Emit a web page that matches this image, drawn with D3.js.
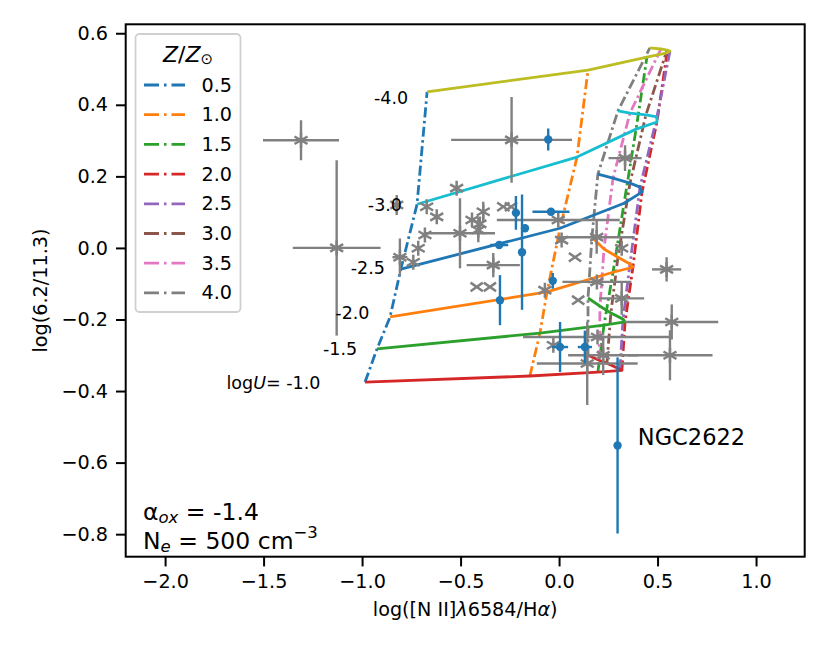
<!DOCTYPE html>
<html>
<head>
<meta charset="utf-8">
<script src="https://cdn.jsdelivr.net/npm/d3@7"></script>
<style>
  html, body { margin: 0; padding: 0; background: #fff; }
  svg { display: block; font-family: "DejaVu Sans", sans-serif; }
</style>
</head>
<body>
<svg id="chart" width="830" height="664"></svg>
<script>
// ---------------- data ----------------
const metallicities = [0.5, 1.0, 1.5, 2.0, 2.5, 3.0, 3.5, 4.0];
const logUValues = [-1.0, -1.5, -2.0, -2.5, -3.0, -4.0];
const logULabels = ["logU= -1.0", "-1.5", "-2.0", "-2.5", "-3.0", "-4.0"];
const logULabelN2 = [-1.450, -1.112, -1.049, -0.971, -0.884, -0.853];
const logULabelPAH = [-0.378, -0.283, -0.182, -0.056, 0.120, 0.419];

// model grid: rows = metallicity, columns = logU
const gridN2 = [
  [-0.985, -0.924, -0.858, -0.803, -0.721, -0.670],
  [-0.148, -0.097, -0.061,  0.005,  0.091,  0.147],
  [ 0.197,  0.228,  0.274,  0.330,  0.391,  0.446],
  [ 0.319,  0.335,  0.375,  0.421,  0.497,  0.548],
  [ 0.309,  0.325,  0.360,  0.411,  0.497,  0.563],
  [ 0.243,  0.263,  0.299,  0.360,  0.441,  0.548],
  [ 0.203,  0.208,  0.228,  0.274,  0.360,  0.517],
  [ 0.147,  0.147,  0.167,  0.197,  0.299,  0.461]
];
const gridPAH = [
  [-0.375, -0.282, -0.193, -0.059,  0.122,  0.436],
  [-0.358, -0.238, -0.123,  0.055,  0.254,  0.497],
  [-0.347, -0.216, -0.068,  0.125,  0.332,  0.533],
  [-0.342, -0.207, -0.054,  0.156,  0.352,  0.545],
  [-0.339, -0.199, -0.045,  0.170,  0.366,  0.550],
  [-0.322, -0.182, -0.026,  0.181,  0.372,  0.553],
  [-0.314, -0.163, -0.003,  0.195,  0.377,  0.556],
  [-0.300, -0.140,  0.030,  0.206,  0.383,  0.559]
];

// comparison sample (gray asterisks)
const grayN2   = [-1.310, -1.129, -0.824, -0.808, -0.715, -0.740, -0.672, -0.621, -0.520, -0.681, -0.503, -0.442, -0.385, -0.410, -0.402, -0.334, -0.241, -0.004, 0.013, 0.191, 0.318, 0.546, 0.192, -0.072, 0.318, 0.572, 0.195, 0.224, 0.563, 0.143, 0.335, -0.029];
const grayPAH  = [ 0.301,  0.000,  0.120, -0.026, -0.001, -0.040,  0.115,  0.087,  0.167,  0.036,  0.041,  0.078,  0.101,  0.050,  0.067, -0.048,  0.302,  0.078, 0.022, 0.030, -0.001, -0.060, -0.095, -0.118, -0.141, -0.207, -0.249, -0.300, -0.300, -0.323, 0.251, -0.272];
const grayXerr = [ 0.193,  0.223,  0,      0.038,  0,      0,      0,      0,      0,      0,      0.178,  0,      0,      0,      0,      0.135,  0.307,  0.312, 0,     0.193, 0,      0.074, 0.175,  0,      0.114, 0.236,  0.378,  0.178, 0.216,  0.256, 0.084, 0];
const grayYerr = [ 0.056,  0.245,  0.028,  0.052,  0,      0,      0,      0,      0,      0,      0.098,  0,      0.028,  0.034,  0,      0.034,  0.120,  0,     0,     0.046, 0,      0.034, 0,      0,      0.046, 0.049,  0,      0.055, 0.070,  0.116, 0.036, 0];

// comparison sample (gray x markers)
const crossN2  = [-0.283, -0.244, -0.418, -0.351, 0.081, 0.097];
const crossPAH = [ 0.115,  0.115, -0.109, -0.109, -0.026, -0.146];

// our sample (blue points)
const blueN2   = [-0.219, -0.041, -0.173, -0.188, -0.304, -0.300, -0.032, -0.055,  0.005,  0.131,  0.297];
const bluePAH  = [ 0.098,  0.101,  0.055, -0.012,  0.008, -0.146, -0.092,  0.303, -0.277, -0.277, -0.552];
const blueXerr = [ 0,      0.094,  0,      0,      0.046,  0,      0,      0,      0.041,  0.036,  0];
const blueYerr = [ 0.047,  0,      0,      0.161,  0,      0.070,  0.022,  0.031,  0.070,  0.046,  0.246];

const xTicks = [-2.0, -1.5, -1.0, -0.5, 0.0, 0.5, 1.0];
const yTicks = [-0.8, -0.6, -0.4, -0.2, 0.0, 0.2, 0.4, 0.6];

const zColors = ["#1f77b4", "#ff7f0e", "#2ca02c", "#d62728", "#9467bd", "#8c564b", "#e377c2", "#7f7f7f"];
const uColors = ["#d62728", "#2ca02c", "#ff7f0e", "#1f77b4", "#17becf", "#bcbd22"];

// ---------------- layout ----------------
const svg = d3.select("#chart");
const L = 125.7, R = 804.7, T = 24.3, B = 556.7;
const x = d3.scaleLinear().domain([-2.2, 1.247]).range([L, R]);
const y = d3.scaleLinear().domain([-0.863, 0.625]).range([B, T]);

svg.append("defs").append("clipPath").attr("id", "clip")
  .append("rect").attr("x", L).attr("y", T).attr("width", R - L).attr("height", B - T);

const plot = svg.append("g").attr("clip-path", "url(#clip)");
const line = d3.line().x(d => x(d[0])).y(d => y(d[1]));

// constant-metallicity lines (dash-dot)
metallicities.forEach((z, i) => {
  const pts = logUValues.map((u, j) => [gridN2[i][j], gridPAH[i][j]]);
  plot.append("path").attr("d", line(pts))
    .attr("fill", "none").attr("stroke", zColors[i]).attr("stroke-width", 2.8)
    .attr("stroke-dasharray", "10,3.5,2.5,3.5");
});
// constant-logU lines (solid)
logUValues.forEach((u, j) => {
  const pts = metallicities.map((z, i) => [gridN2[i][j], gridPAH[i][j]]);
  plot.append("path").attr("d", line(pts))
    .attr("fill", "none").attr("stroke", uColors[j]).attr("stroke-width", 2.8)
    .attr("stroke-linejoin", "round");
});

// logU labels
logULabels.forEach((t, j) => {
  const txt = svg.append("text").attr("x", x(logULabelN2[j])).attr("y", y(logULabelPAH[j]))
    .attr("text-anchor", "middle").attr("dominant-baseline", "central")
    .attr("font-size", 17.5).attr("fill", "#000");
  if (t.startsWith("log")) {
    txt.append("tspan").text("log");
    txt.append("tspan").attr("font-style", "italic").text("U");
    txt.append("tspan").text("= -1.0");
  } else txt.text(t);
});

// error bars helper
function errbars(g, xs, ys, xe, ye, color) {
  xs.forEach((xv, k) => {
    if (xe[k] > 0) g.append("line")
      .attr("x1", x(xv - xe[k])).attr("x2", x(xv + xe[k]))
      .attr("y1", y(ys[k])).attr("y2", y(ys[k]))
      .attr("stroke", color).attr("stroke-width", 2.4);
    if (ye[k] > 0) g.append("line")
      .attr("x1", x(xv)).attr("x2", x(xv))
      .attr("y1", y(ys[k] - ye[k])).attr("y2", y(ys[k] + ye[k]))
      .attr("stroke", color).attr("stroke-width", 2.4);
  });
}

const grayG = plot.append("g");
errbars(grayG, grayN2, grayPAH, grayXerr, grayYerr, "#808080");
const rA = 7.5;
function asterisk(cx, cy) {
  let d = "";
  [90, 30, 150].forEach(a => {
    const r = a * Math.PI / 180;
    const dx = rA * Math.cos(r), dy = rA * Math.sin(r);
    d += `M${cx - dx},${cy + dy}L${cx + dx},${cy - dy}`;
  });
  return d;
}
function xmark(cx, cy) {
  let d = "";
  [35, 145].forEach(a => {
    const r = a * Math.PI / 180;
    const dx = rA * Math.cos(r), dy = rA * Math.sin(r);
    d += `M${cx - dx},${cy + dy}L${cx + dx},${cy - dy}`;
  });
  return d;
}
grayN2.forEach((xv, k) => {
  grayG.append("path").attr("d", asterisk(x(xv), y(grayPAH[k])))
    .attr("stroke", "#808080").attr("stroke-width", 2.5).attr("fill", "none");
});
crossN2.forEach((xv, k) => {
  grayG.append("path").attr("d", xmark(x(xv), y(crossPAH[k])))
    .attr("stroke", "#808080").attr("stroke-width", 2.5).attr("fill", "none");
});

const blueG = plot.append("g");
errbars(blueG, blueN2, bluePAH, blueXerr, blueYerr, "#1f77b4");
blueN2.forEach((xv, k) => {
  blueG.append("circle").attr("cx", x(xv)).attr("cy", y(bluePAH[k])).attr("r", 4.2)
    .attr("fill", "#1f77b4");
});

svg.append("text").attr("x", x(0.40)).attr("y", y(-0.529))
  .attr("dominant-baseline", "central").attr("font-size", 22.5).text("NGC2622");

// frame
svg.append("rect").attr("x", L).attr("y", T).attr("width", R - L).attr("height", B - T)
  .attr("fill", "none").attr("stroke", "#000").attr("stroke-width", 2);

// axes
const fmt = d3.format(".1f");
const xAxis = svg.append("g").attr("transform", `translate(0,${B})`)
  .call(d3.axisBottom(x).tickValues(xTicks).tickFormat(fmt).tickSize(9.7).tickPadding(8).tickSizeOuter(0));
const yAxis = svg.append("g").attr("transform", `translate(${L},0)`)
  .call(d3.axisLeft(y).tickValues(yTicks).tickFormat(fmt).tickSize(9.7).tickPadding(8).tickSizeOuter(0));
[xAxis, yAxis].forEach(a => {
  a.select(".domain").remove();
  a.selectAll(".tick line").attr("stroke", "#000").attr("stroke-width", 2);
  a.selectAll(".tick text").attr("font-size", 19.2).attr("font-family", "DejaVu Sans").attr("fill", "#000");
});

// axis labels
const xl = svg.append("text").attr("x", (L + R) / 2).attr("y", 609)
  .attr("text-anchor", "middle").attr("dominant-baseline", "central").attr("font-size", 19.2);
xl.append("tspan").text("log([N II]");
xl.append("tspan").attr("font-style", "italic").text("λ");
xl.append("tspan").text("6584/H");
xl.append("tspan").attr("font-style", "italic").text("α");
xl.append("tspan").text(")");

svg.append("text").attr("transform", `translate(40,${(T + B) / 2}) rotate(-90)`)
  .attr("text-anchor", "middle").attr("dominant-baseline", "central").attr("font-size", 19.2)
  .text("log(6.2/11.3)");

// bottom-left annotations
const t1 = svg.append("text").attr("x", 143).attr("y", 512).attr("dominant-baseline", "central").attr("font-size", 23.5);
t1.append("tspan").text("α");
t1.append("tspan").attr("font-style", "italic").attr("font-size", 16.5).attr("dy", 5).text("ox");
t1.append("tspan").attr("dy", -5).text(" = -1.4");
const t2 = svg.append("text").attr("x", 143).attr("y", 541).attr("dominant-baseline", "central").attr("font-size", 23.5);
t2.append("tspan").text("N");
t2.append("tspan").attr("font-style", "italic").attr("font-size", 16.5).attr("dy", 5).text("e");
t2.append("tspan").attr("dy", -5).text(" = 500 cm");
t2.append("tspan").attr("font-size", 16.5).attr("dy", -9).text("−3");

// legend
const lg = svg.append("g");
lg.append("rect").attr("x", 135.5).attr("y", 34).attr("width", 105).attr("height", 278)
  .attr("rx", 4).attr("fill", "#fff").attr("fill-opacity", 0.8)
  .attr("stroke", "#d0d0d0").attr("stroke-width", 1.8);
const title = lg.append("text").attr("x", 188).attr("y", 54).attr("text-anchor", "middle")
  .attr("dominant-baseline", "central").attr("font-size", 22);
title.append("tspan").attr("font-style", "italic").text("Z");
title.append("tspan").text("/");
title.append("tspan").attr("font-style", "italic").text("Z");
title.append("tspan").attr("font-size", 15).attr("dy", 5).text("⊙");
metallicities.forEach((z, i) => {
  const yy = 85 + i * 29.7;
  lg.append("line").attr("x1", 144).attr("x2", 185).attr("y1", yy).attr("y2", yy)
    .attr("stroke", zColors[i]).attr("stroke-width", 2.8).attr("stroke-dasharray", "15,5,2.5,5");
  lg.append("text").attr("x", 201.5).attr("y", yy).attr("dominant-baseline", "central")
    .attr("font-size", 19.2).text(z.toFixed(1));
});
</script>
</body>
</html>
